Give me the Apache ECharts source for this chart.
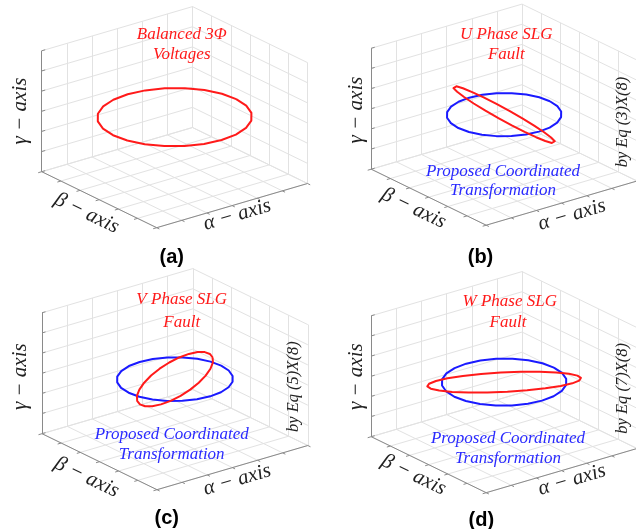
<!DOCTYPE html>
<html><head><meta charset="utf-8">
<script src="https://cdn.jsdelivr.net/npm/echarts@6/dist/echarts.min.js"></script>
<style>html,body{margin:0;padding:0;background:#fff}#c{width:636px;height:529px}</style>
</head><body><div id="c"></div>
<script>
// ---- axis ticks (alpha, beta, gamma all share the same range) ----
const ticks = [-1.5, -1, -0.5, 0, 0.5, 1, 1.5];

// ---- (a) balanced 3-phase voltages ----
const a_red_alpha = [1.225,1.183,1.061,0.866,0.612,0.317,0,-0.317,-0.612,-0.866,-1.061,-1.183,-1.225,-1.183,-1.061,-0.866,-0.612,-0.317,0,0.317,0.612,0.866,1.061,1.183];
const a_red_beta  = [0,0.317,0.612,0.866,1.061,1.183,1.225,1.183,1.061,0.866,0.612,0.317,0,-0.317,-0.612,-0.866,-1.061,-1.183,-1.225,-1.183,-1.061,-0.866,-0.612,-0.317];
const a_red_gamma = [0,0,0,0,0,0,0,0,0,0,0,0,0,0,0,0,0,0,0,0,0,0,0,0];

// ---- (b) U phase SLG fault ----
const b_red_alpha = [0.408,0.394,0.353,0.289,0.204,0.106,0,-0.106,-0.204,-0.289,-0.353,-0.394,-0.408,-0.394,-0.353,-0.289,-0.204,-0.106,0,0.106,0.204,0.289,0.353,0.394];
const b_red_beta  = [0,0.317,0.612,0.866,1.061,1.183,1.225,1.183,1.061,0.866,0.612,0.317,0,-0.317,-0.612,-0.866,-1.061,-1.183,-1.225,-1.183,-1.061,-0.866,-0.612,-0.317];
const b_red_gamma = [-0.577,-0.557,-0.500,-0.408,-0.289,-0.149,0,0.149,0.289,0.408,0.500,0.557,0.577,0.557,0.500,0.408,0.289,0.149,0,-0.149,-0.289,-0.408,-0.500,-0.557];
const b_blue_alpha = [0.910,0.879,0.788,0.643,0.455,0.236,0,-0.236,-0.455,-0.643,-0.788,-0.879,-0.910,-0.879,-0.788,-0.643,-0.455,-0.236,0,0.236,0.455,0.643,0.788,0.879];
const b_blue_beta  = [0,0.236,0.455,0.643,0.788,0.879,0.910,0.879,0.788,0.643,0.455,0.236,0,-0.236,-0.455,-0.643,-0.788,-0.879,-0.910,-0.879,-0.788,-0.643,-0.455,-0.236];
const b_blue_gamma = [0,0,0,0,0,0,0,0,0,0,0,0,0,0,0,0,0,0,0,0,0,0,0,0];

// ---- (c) V phase SLG fault ----
const c_red_alpha = [1.021,1.077,1.061,0.972,0.817,0.606,0.354,0.077,-0.204,-0.472,-0.707,-0.894,-1.021,-1.077,-1.061,-0.972,-0.817,-0.606,-0.354,-0.077,0.204,0.472,0.707,0.894];
const c_red_beta  = [0.354,0.500,0.612,0.683,0.707,0.683,0.612,0.500,0.354,0.183,0,-0.183,-0.354,-0.500,-0.612,-0.683,-0.707,-0.683,-0.612,-0.500,-0.354,-0.183,0,0.183];
const c_red_gamma = [0,0,0,0,0,0,0,0,0,0,0,0,0,0,0,0,0,0,0,0,0,0,0,0];
const c_blue_alpha = [0.920,0.889,0.797,0.651,0.460,0.238,0,-0.238,-0.460,-0.651,-0.797,-0.889,-0.920,-0.889,-0.797,-0.651,-0.460,-0.238,0,0.238,0.460,0.651,0.797,0.889];
const c_blue_beta  = [0,0.238,0.460,0.651,0.797,0.889,0.920,0.889,0.797,0.651,0.460,0.238,0,-0.238,-0.460,-0.651,-0.797,-0.889,-0.920,-0.889,-0.797,-0.651,-0.460,-0.238];
const c_blue_gamma = [0,0,0,0,0,0,0,0,0,0,0,0,0,0,0,0,0,0,0,0,0,0,0,0];

// ---- (d) W phase SLG fault ----
const d_red_alpha = [1.021,0.894,0.707,0.472,0.204,-0.077,-0.354,-0.606,-0.817,-0.972,-1.061,-1.077,-1.021,-0.894,-0.707,-0.472,-0.204,0.077,0.354,0.606,0.817,0.972,1.061,1.077];
const d_red_beta  = [-0.354,-0.183,0,0.183,0.354,0.500,0.612,0.683,0.707,0.683,0.612,0.500,0.354,0.183,0,-0.183,-0.354,-0.500,-0.612,-0.683,-0.707,-0.683,-0.612,-0.500];
const d_red_gamma = [0,0,0,0,0,0,0,0,0,0,0,0,0,0,0,0,0,0,0,0,0,0,0,0];
const d_blue_alpha = [0.990,0.956,0.857,0.700,0.495,0.256,0,-0.256,-0.495,-0.700,-0.857,-0.956,-0.990,-0.956,-0.857,-0.700,-0.495,-0.256,0,0.256,0.495,0.700,0.857,0.956];
const d_blue_beta  = [0,0.256,0.495,0.700,0.857,0.956,0.990,0.956,0.857,0.700,0.495,0.256,0,-0.256,-0.495,-0.700,-0.857,-0.956,-0.990,-0.956,-0.857,-0.700,-0.495,-0.256];
const d_blue_gamma = [0,0,0,0,0,0,0,0,0,0,0,0,0,0,0,0,0,0,0,0,0,0,0,0];

// ---- view / layout (projection of the 3-D box onto the page) ----
const VIEW = {ox:156.7, oy:227.7, ax:[50.27,-14.73], bx:[-38.33,-18.67], gz:40.3};
const PANELS = [{dx:0,dy:0},{dx:329.5,dy:-2.5},{dx:0.3,dy:262},{dx:329.5,dy:265}];
const LO = ticks[0], HI = ticks[ticks.length-1];

function proj(p, a, b, g){
  const u = a - LO, v = b - LO, w = g - LO;
  return [VIEW.ox + p.dx + u*VIEW.ax[0] + v*VIEW.bx[0],
          VIEW.oy + p.dy + u*VIEW.ax[1] + v*VIEW.bx[1] - w*VIEW.gz];
}
function curve(p, al, be, ga){
  const pts = al.map((a,i)=>proj(p, a, be[i], ga[i]));
  pts.push(pts[0]);
  return pts;
}
function gridSegs(p){
  const s=[];
  ticks.forEach(t=>{
    s.push([proj(p,t,LO,LO), proj(p,t,HI,LO)]);
    s.push([proj(p,LO,t,LO), proj(p,HI,t,LO)]);
    s.push([proj(p,t,HI,LO), proj(p,t,HI,HI)]);
    s.push([proj(p,LO,HI,t), proj(p,HI,HI,t)]);
    s.push([proj(p,HI,t,LO), proj(p,HI,t,HI)]);
    s.push([proj(p,HI,LO,t), proj(p,HI,HI,t)]);
  });
  return s.map(c=>({coords:c}));
}
function axisSegs(p){
  const s=[], tl=0.07;
  s.push([proj(p,LO,HI,LO), proj(p,LO,HI,HI)]);
  s.push([proj(p,LO,HI,LO), proj(p,LO,LO,LO)]);
  s.push([proj(p,LO,LO,LO), proj(p,HI,LO,LO)]);
  ticks.forEach(t=>{
    s.push([proj(p,t,LO,LO), proj(p,t,LO-tl,LO)]);
    s.push([proj(p,LO,t,LO), proj(p,LO-tl,t,LO)]);
    s.push([proj(p,LO,HI,t), proj(p,LO+tl,HI,t)]);
  });
  return s.map(c=>({coords:c}));
}

const RED = '#ff1a1a', BLUE = '#1a1aff';
const curves = [
  {p:0, al:a_red_alpha, be:a_red_beta, ga:a_red_gamma, color:RED},
  {p:1, al:b_blue_alpha, be:b_blue_beta, ga:b_blue_gamma, color:BLUE},
  {p:1, al:b_red_alpha, be:b_red_beta, ga:b_red_gamma, color:RED},
  {p:2, al:c_blue_alpha, be:c_blue_beta, ga:c_blue_gamma, color:BLUE},
  {p:2, al:c_red_alpha, be:c_red_beta, ga:c_red_gamma, color:RED},
  {p:3, al:d_blue_alpha, be:d_blue_beta, ga:d_blue_gamma, color:BLUE},
  {p:3, al:d_red_alpha, be:d_red_beta, ga:d_red_gamma, color:RED}
];

const series = [];
PANELS.forEach(p=>{
  series.push({type:'lines', coordinateSystem:'cartesian2d', silent:true, z:1,
    data:gridSegs(p), lineStyle:{color:'#e2e2e2', width:1, opacity:1}});
  series.push({type:'lines', coordinateSystem:'cartesian2d', silent:true, z:2,
    data:axisSegs(p), lineStyle:{color:'#8a8a8a', width:1, opacity:1}});
});
curves.forEach((c,i)=>{
  series.push({type:'line', smooth:false, showSymbol:false, symbol:'none', silent:true, z:3+i,
    data:curve(PANELS[c.p], c.al, c.be, c.ga),
    lineStyle:{color:c.color, width:2, join:'round'}});
});

const SERIF = '"Liberation Serif","Times New Roman",serif';
function txt(x,y,text,opt){
  opt = opt||{};
  return {type:'text', x:x, y:y, rotation:(opt.rot||0)*Math.PI/180, z:100,
    style:{text:text, x:0, y:0, align:'center', verticalAlign:'middle',
      fill:opt.color||'#222', fontSize:opt.size||17, fontFamily:opt.family||SERIF,
      fontStyle:opt.style||'italic', fontWeight:opt.weight||'normal'}};
}
const AX = {size:21, color:'#222'};
const TI = {size:17, color:RED};
const BL = {size:17, color:'#2a2aff'};
const EQ = {size:16.5, color:'#222', rot:90};
const PL = {size:20, color:'#000', style:'normal', weight:'bold', family:'"Liberation Sans",Arial,sans-serif'};
const graphics = [
  // (a)
  txt(181.7,35,'Balanced 3\u03A6',TI), txt(181.7,55,'Voltages',TI),
  txt(20.7,111,'\u03B3 \u2212 axis',Object.assign({rot:90},AX)),
  txt(86.7,213.3,'\u03B2 \u2212 axis',Object.assign({rot:-26},AX)),
  txt(237.3,215,'\u03B1 \u2212 axis',Object.assign({rot:16.3},AX)),
  txt(171.7,257,'(a)',PL),
  // (b)
  txt(506.3,35,'U Phase SLG',TI), txt(506.3,55,'Fault',TI),
  txt(503,171.7,'Proposed Coordinated',BL), txt(503,190.7,'Transformation',BL),
  txt(623,122,'by Eq (3)X(8)',EQ),
  txt(356.3,110,'\u03B3 \u2212 axis',Object.assign({rot:90},AX)),
  txt(413.7,208.3,'\u03B2 \u2212 axis',Object.assign({rot:-26},AX)),
  txt(572,215,'\u03B1 \u2212 axis',Object.assign({rot:16.3},AX)),
  txt(480.5,257,'(b)',PL),
  // (c)
  txt(181.7,300,'V Phase SLG',TI), txt(181.7,322.3,'Fault',TI),
  txt(171.7,435,'Proposed Coordinated',BL), txt(171.7,454.3,'Transformation',BL),
  txt(293.3,386.7,'by Eq (5)X(8)',EQ),
  txt(20.7,376.7,'\u03B3 \u2212 axis',Object.assign({rot:90},AX)),
  txt(86.7,477.3,'\u03B2 \u2212 axis',Object.assign({rot:-26},AX)),
  txt(237.3,480,'\u03B1 \u2212 axis',Object.assign({rot:16.3},AX)),
  txt(166.7,518,'(c)',PL),
  // (d)
  txt(509.7,301.7,'W Phase SLG',TI), txt(508,322.3,'Fault',TI),
  txt(508,438.3,'Proposed Coordinated',BL), txt(508,458.3,'Transformation',BL),
  txt(622.7,388.3,'by Eq (7)X(8)',EQ),
  txt(356.3,376.7,'\u03B3 \u2212 axis',Object.assign({rot:90},AX)),
  txt(413.7,475,'\u03B2 \u2212 axis',Object.assign({rot:-26},AX)),
  txt(572,480,'\u03B1 \u2212 axis',Object.assign({rot:16.3},AX)),
  txt(481.3,520,'(d)',PL)
];

const chart = echarts.init(document.getElementById('c'), null, {renderer:'canvas'});
chart.setOption({
  backgroundColor:'#fff',
  animation:false,
  grid:{left:0, right:0, top:0, bottom:0, containLabel:false},
  xAxis:{type:'value', min:0, max:636, show:false},
  yAxis:{type:'value', min:0, max:529, inverse:true, show:false},
  series:series,
  graphic:graphics
});
</script></body></html>
